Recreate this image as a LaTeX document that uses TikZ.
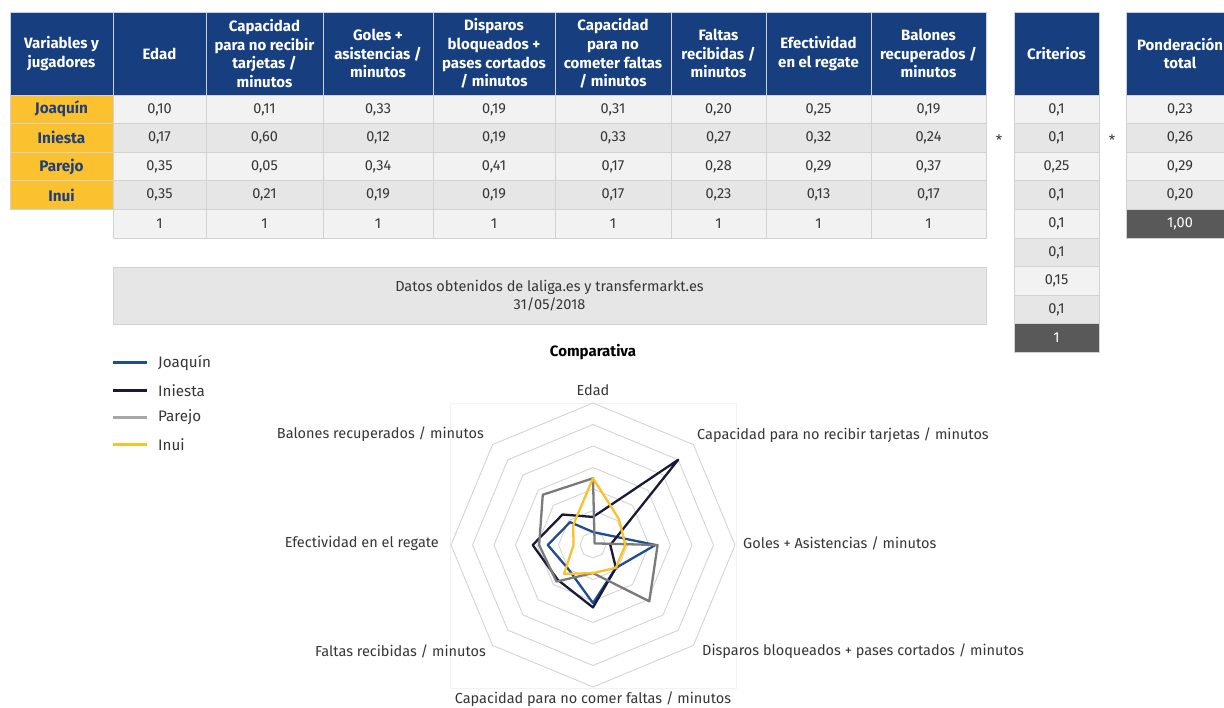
\documentclass[tikz,border=0pt]{standalone}
\usepackage{fontspec}
\setmainfont{Fira Sans}

\definecolor{headblue}{HTML}{173F80}
\definecolor{headline}{HTML}{C9D0DC}
\definecolor{nameyellow}{HTML}{FBC12E}
\definecolor{nameblue}{HTML}{1F3F7F}
\definecolor{cellA}{HTML}{F2F2F2}
\definecolor{cellB}{HTML}{E6E6E6}
\definecolor{cellline}{HTML}{D2D2D2}
\definecolor{darkcell}{HTML}{595959}
\definecolor{txtgray}{HTML}{363636}
\definecolor{ringgray}{HTML}{D4D4D4}
\definecolor{cjoaquin}{HTML}{1F4E8F}
\definecolor{ciniesta}{HTML}{1A1A38}
\definecolor{cparejo}{HTML}{7A7A7A}
\definecolor{cparejokey}{HTML}{A8A8A8}
\definecolor{cinui}{HTML}{F9C22B}

\def\colx{{10,113,206,323,433,555,671,766,871,986}}

\begin{document}
\begin{tikzpicture}[x=1pt, y=-1pt,
    headcell/.style={fill=headblue, draw=headline, line width=0.8pt},
    headtext/.style={text=white, align=center, inner sep=0pt,
      font=\fontsize{15}{18.7}\selectfont\bfseries},
    namecell/.style={fill=nameyellow, draw=cellline, line width=0.8pt},
    nametext/.style={text=nameblue, font=\fontsize{15.3}{17}\selectfont\bfseries},
    datacell/.style={draw=cellline, line width=0.8pt},
    datatext/.style={text=txtgray, font=\fontsize{14.5}{16}\selectfont},
    ring/.style={draw=ringgray, line width=0.9pt},
    serie/.style={line width=2.3pt, line join=round},
    axlabel/.style={text=txtgray, inner sep=0pt, font=\fontsize{14.5}{16}\selectfont},
  ]
    \useasboundingbox[fill=white] (0,0) rectangle (1224,708);

    \foreach \xa/\xb/\txt [count=\i] in {10/113/{Variables y\\jugadores}, 113/206/Edad,
        206/323/{Capacidad\\para no recibir\\tarjetas /\\minutos},
        323/433/{Goles +\\asistencias /\\minutos},
        433/555/{Disparos\\bloqueados +\\pases cortados\\/ minutos},
        555/671/{Capacidad\\para no\\cometer faltas\\/ minutos},
        671/766/{Faltas\\recibidas /\\minutos},
        766/871/{Efectividad\\en el regate},
        871/986/{Balones\\recuperados /\\minutos},
        1014/1099/Criterios, 1126/1234/{Ponderación\\total}}
    {
      \draw[headcell] (\xa,12) rectangle (\xb,95);
      \node[headtext] (h\i) at ({(\xa+\xb)/2},53.5) {\txt};
    }

    \foreach \nm/\vals [count=\r] in {Joaquín/{10,11,33,19,31,20,25,19},
        Iniesta/{17,60,12,19,33,27,32,24}, Parejo/{35,05,34,41,17,28,29,37},
        Inui/{35,21,19,19,17,23,13,17}}
    {
      \pgfmathsetmacro\ya{95+28.6*(\r-1)}
      \pgfmathsetmacro\yb{\ya+28.6}
      \ifodd\r\def\rowfill{cellA}\else\def\rowfill{cellB}\fi
      \draw[namecell] (10,\ya) rectangle (113,\yb);
      \node[nametext] (n\r) at (61.5,{(\ya+\yb)/2}) {\nm};
      \foreach \v [count=\c] in \vals {
        \pgfmathsetmacro\xa{\colx[\c]}
        \pgfmathsetmacro\xb{\colx[\c+1]}
        \draw[datacell, fill=\rowfill] (\xa,\ya) rectangle (\xb,\yb);
        \node[datatext] (d\r-\c) at ({(\xa+\xb)/2},{(\ya+\yb)/2}) {0,\v};
      }
    }

    \foreach \c in {1,...,8} {
      \pgfmathsetmacro\xa{\colx[\c]}
      \pgfmathsetmacro\xb{\colx[\c+1]}
      \draw[datacell, fill=cellA] (\xa,209.4) rectangle (\xb,238);
      \node[datatext] (s\c) at ({(\xa+\xb)/2},223.7) {1};
    }

    \foreach \v [count=\r] in {0{,}1, 0{,}1, 0{,}25, 0{,}1, 0{,}1, 0{,}1, 0{,}15, 0{,}1} {
      \pgfmathsetmacro\ya{95+28.6*(\r-1)}
      \ifodd\r\def\rowfill{cellA}\else\def\rowfill{cellB}\fi
      \draw[datacell, fill=\rowfill] (1014,\ya) rectangle (1099,\ya+28.6);
      \node[datatext] (k\r) at (1056.5,\ya+14.3) {\v};
    }
    \draw[datacell, fill=darkcell] (1014,323.8) rectangle (1099,352.4);
    \node[datatext, text=white] (k9) at (1056.5,338.1) {1};

    \foreach \v [count=\r] in {23,26,29,20} {
      \pgfmathsetmacro\ya{95+28.6*(\r-1)}
      \ifodd\r\def\rowfill{cellA}\else\def\rowfill{cellB}\fi
      \draw[datacell, fill=\rowfill] (1126,\ya) rectangle (1234,\ya+28.6);
      \node[datatext] (p\r) at (1180,\ya+14.3) {0,\v};
    }
    \draw[datacell, fill=darkcell] (1126,209.4) rectangle (1234,238);
    \node[datatext, text=white] (p5) at (1180,223.7) {1,00};

    \node[datatext] (por1) at (999,140) {*};
    \node[datatext] (por2) at (1112,140) {*};

    \draw[datacell, fill=cellB] (113,267) rectangle (986,324);
    \node[datatext, align=center, font=\fontsize{14.5}{18}\selectfont] (datos) at (549.5,295.5)
      {Datos obtenidos de laliga.es y transfermarkt.es\\31/05/2018};

    \node[text=black, font=\fontsize{15}{17}\selectfont\bfseries] (titulo) at (593,352) {Comparativa};

    \foreach \nm/\clr [count=\k] in {Joaquín/cjoaquin, Iniesta/ciniesta, Parejo/cparejokey, Inui/cinui} {
      \pgfmathsetmacro\yk{363+27.3*(\k-1)}
      \draw[\clr, line width=3pt] (113,\yk) -- (147,\yk);
      \node[axlabel, anchor=west, font=\fontsize{15.2}{17}\selectfont] (ley\k) at (158,\yk) {\nm};
    }

    \draw[draw=cellA, line width=0.6pt] (450,403) rectangle (736,688);

    \begin{scope}[shift={(593,545)}]
      \foreach \k in {1,...,7} {
        \pgfmathsetmacro\rr{21.5*\k-8.5}
        \draw[ring] (90:\rr pt) foreach \a in {45,0,-45,-90,-135,-180,-225} { -- (\a:\rr pt)} -- cycle;
      }
      \foreach \s/\clr/\vals in {j/cjoaquin/{10,11,33,19,31,20,25,19},
          i/ciniesta/{17,60,12,19,33,27,32,24}, p/cparejo/{35,05,34,41,17,28,29,37},
          u/cinui/{35,21,19,19,17,23,13,17}}
      {
        \foreach \v [count=\i from 0] in \vals {
          \pgfmathsetmacro\rr{2.15*\v-8.5}
          \pgfmathsetmacro\aa{90-45*\i}
          \coordinate (\s\i) at (\aa:\rr pt);
        }
        \draw[serie, \clr] (\s0) -- (\s1) -- (\s2) -- (\s3) -- (\s4) -- (\s5) -- (\s6) -- (\s7) -- cycle;
      }
    \end{scope}

    \node[axlabel] (ax1) at (593,390) {Edad};
    \node[axlabel, anchor=west] (ax2) at (697,435) {Capacidad para no recibir tarjetas / minutos};
    \node[axlabel, anchor=west] (ax3) at (743,543) {Goles + Asistencias / minutos};
    \node[axlabel, anchor=west] (ax4) at (702,651) {Disparos bloqueados + pases cortados / minutos};
    \node[axlabel] (ax5) at (593,699) {Capacidad para no comer faltas / minutos};
    \node[axlabel, anchor=east] (ax6) at (486,651) {Faltas recibidas / minutos};
    \node[axlabel, anchor=east] (ax7) at (439,543) {Efectividad en el regate};
    \node[axlabel, anchor=east] (ax8) at (484,434) {Balones recuperados / minutos};
\end{tikzpicture}
\end{document}
